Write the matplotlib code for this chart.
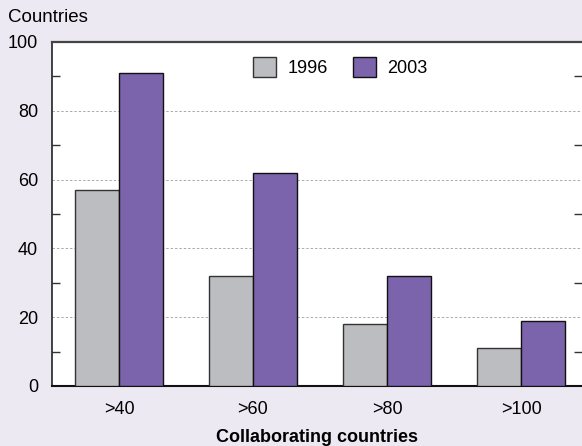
import matplotlib
matplotlib.use("Agg")
import matplotlib.pyplot as plt
import numpy as np

plt.rcParams['font.family'] = ['Liberation Sans', 'DejaVu Sans']

categories = [">40", ">60", ">80", ">100"]
years = ["1996", "2003"]
values_1996 = [57, 32, 18, 11]
values_2003 = [91, 62, 32, 19]

bg = "#ECE9F3"
c1996 = "#BCBDC0"
c2003 = "#7B64AC"

W, H = 582, 446
fig = plt.figure(figsize=(W/100, H/100), dpi=100, facecolor=bg)
ax = fig.add_axes([52/W, (H-386)/H, (582-52)/W, 344/H])
ax.set_facecolor("white")

x = np.arange(len(categories))
bw = 0.33
ax.bar(x - bw/2, values_1996, bw, color=c1996, edgecolor="#333333", linewidth=1.0, label=years[0], zorder=3)
ax.bar(x + bw/2, values_2003, bw, color=c2003, edgecolor="#111111", linewidth=1.0, label=years[1], zorder=3)

ax.set_xlim(-0.5, -0.5 + 530/134)
ax.set_ylim(0, 100)
ax.set_yticks([0, 20, 40, 60, 80, 100])
ax.set_yticks([10, 30, 50, 70, 90], minor=True)
ax.tick_params(axis='y', which='major', length=0, labelsize=13, pad=10)
ax.tick_params(axis='y', which='minor', direction='in', length=6, width=1, color="#333333", right=True)
ax.set_xticks(x)
ax.set_xticklabels(categories)
ax.tick_params(axis='x', length=0, labelsize=13, pad=11)

for yv in [20, 40, 60, 80]:
    ax.axhline(yv, color="#AAAAAA", linestyle=(0, (2.5, 2)), linewidth=0.7, zorder=1)

ax.spines['right'].set_visible(False)
ax.spines['top'].set_color("#444444")
ax.spines['top'].set_linewidth(1.6)
ax.spines['left'].set_color("#222222")
ax.spines['left'].set_linewidth(1.2)
ax.spines['bottom'].set_color("#111111")
ax.spines['bottom'].set_linewidth(1.5)

fig.text((52 + 265) / W, 1 - 437/H, "Collaborating countries", fontsize=13, fontweight='bold',
         ha='center', va='center')
fig.text(8/W, 1 - 18/H, "Countries", fontsize=13.5, va='center', ha='left')

leg = ax.legend(loc='upper left', bbox_to_anchor=(201/530, 1 - 15/344), ncol=2, frameon=False,
                fontsize=13, handlelength=1.3, handleheight=1.3, columnspacing=1.4, handletextpad=0.6,
                borderpad=0, borderaxespad=0)
for h in leg.legend_handles:
    h.set_linewidth(1.0)

fig.savefig("out.png", dpi=100, facecolor=bg)
